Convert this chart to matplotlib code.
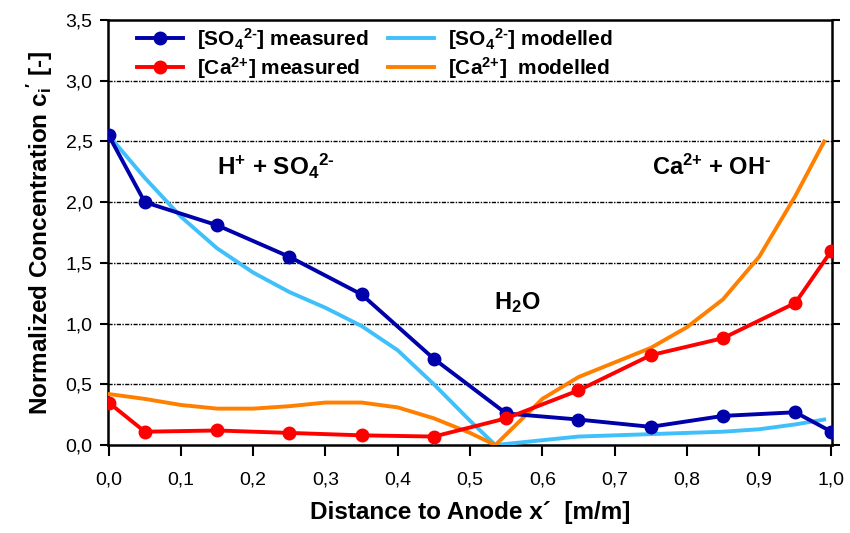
import numpy as np
import matplotlib
matplotlib.use('Agg')
import matplotlib.pyplot as plt
from matplotlib.ticker import FuncFormatter

plt.rcParams['font.family'] = ['Liberation Sans', 'DejaVu Sans']
plt.rcParams['mathtext.fontset'] = 'custom'
plt.rcParams['mathtext.rm'] = 'Liberation Sans:bold'
plt.rcParams['mathtext.bf'] = 'Liberation Sans:bold'
plt.rcParams['mathtext.it'] = 'Liberation Sans:bold'

##### data

x_meas = [0.0, 0.05, 0.15, 0.25, 0.35, 0.45, 0.55, 0.65, 0.75, 0.85, 0.95, 1.0]
so4_meas = [2.55, 2.0, 1.81, 1.55, 1.24, 0.71, 0.26, 0.21, 0.15, 0.24, 0.27, 0.11]
ca_meas = [0.35, 0.11, 0.12, 0.10, 0.08, 0.07, 0.22, 0.45, 0.74, 0.88, 1.17, 1.60]

x_mod = [0.0, 0.05, 0.1, 0.15, 0.2, 0.25, 0.3, 0.35, 0.4, 0.45, 0.5, 0.535,
         0.6, 0.65, 0.7, 0.75, 0.8, 0.85, 0.9, 0.95, 0.99]
so4_mod = [2.55, 2.2, 1.88, 1.62, 1.42, 1.26, 1.13, 0.98, 0.78, 0.5, 0.2, 0.0,
           0.04, 0.07, 0.08, 0.09, 0.1, 0.11, 0.13, 0.17, 0.21]
ca_mod = [0.42, 0.38, 0.33, 0.30, 0.30, 0.32, 0.35, 0.35, 0.31, 0.22, 0.1, 0.0,
          0.38, 0.56, 0.68, 0.80, 0.97, 1.2, 1.55, 2.05, 2.5]

c_so4 = '#0000AA'
c_ca = '#FF0000'
c_so4m = '#40C0FA'
c_cam = '#FF8000'

fig = plt.figure(figsize=(8.5, 5.33), dpi=100)
ax = fig.add_axes([0.127, 0.165, 0.852, 0.7975])

l1, = ax.plot(x_meas, so4_meas, '-o', color=c_so4, lw=2.8, ms=9, label=r'[SO$_4$$^{\text{2-}}$] measured', zorder=4)
l2, = ax.plot(x_mod, so4_mod, '-', color=c_so4m, lw=2.8, label=r'[SO$_4$$^{\text{2-}}$] modelled', zorder=3)
l3, = ax.plot(x_meas, ca_meas, '-o', color=c_ca, lw=2.8, ms=9, label=r'[Ca$^{\text{2+}}$] measured', zorder=4)
l4, = ax.plot(x_mod, ca_mod, '-', color=c_cam, lw=2.8, label=r'[Ca$^{\text{2+}}$]  modelled', zorder=3)

ax.set_xlim(-0.001, 1.001)
ax.set_ylim(0, 3.5)
ax.set_xticks(np.arange(0, 1.01, 0.1))
ax.set_yticks(np.arange(0, 3.51, 0.5))
fmt = FuncFormatter(lambda v, p: ('%.1f' % v).replace('.', ','))
ax.xaxis.set_major_formatter(fmt)
ax.yaxis.set_major_formatter(fmt)
ax.tick_params(axis='both', labelsize=14, width=1.5, colors='black')
ax.tick_params(axis='x', direction='out', length=8, pad=11)
ax.tick_params(axis='y', direction='out', length=6, pad=5, right=True)

for yv in np.arange(0.5, 3.01, 0.5):
    ax.axhline(yv, color='black', lw=1.0, ls=(0, (3, 1, 1, 1)), zorder=1)

for s in ax.spines.values():
    s.set_linewidth(1.8)

ax.set_xlabel('Distance to Anode x\u00b4  [m/m]', fontsize=17.5, fontweight='bold', labelpad=9)
ax.set_ylabel(r'Normalized Concentration c$_\mathrm{i}$$^\prime$ [-]', fontsize=17.5, fontweight='bold', labelpad=8)

ax.text(0.232, 2.29, r'H$^{\text{+}}$ + SO$_4$$^{\text{2-}}$', fontsize=17.5, fontweight='bold', ha='center', va='center')
ax.text(0.835, 2.29, r'Ca$^{\text{2+}}$ + OH$^{\text{-}}$', fontsize=17, fontweight='bold', ha='center', va='center')
ax.text(0.565, 1.17, r'H$_2$O', fontsize=17, fontweight='bold', ha='center', va='center')

leg = ax.legend(handles=[l1, l3, l2, l4], ncol=2, loc='upper left', bbox_to_anchor=(0.014, 1.03), frameon=False,
                prop={'weight': 'bold', 'size': 15}, handlelength=2.2, columnspacing=0.9,
                labelspacing=0.15, handletextpad=0.7)

fig.savefig('out.png', dpi=100)
